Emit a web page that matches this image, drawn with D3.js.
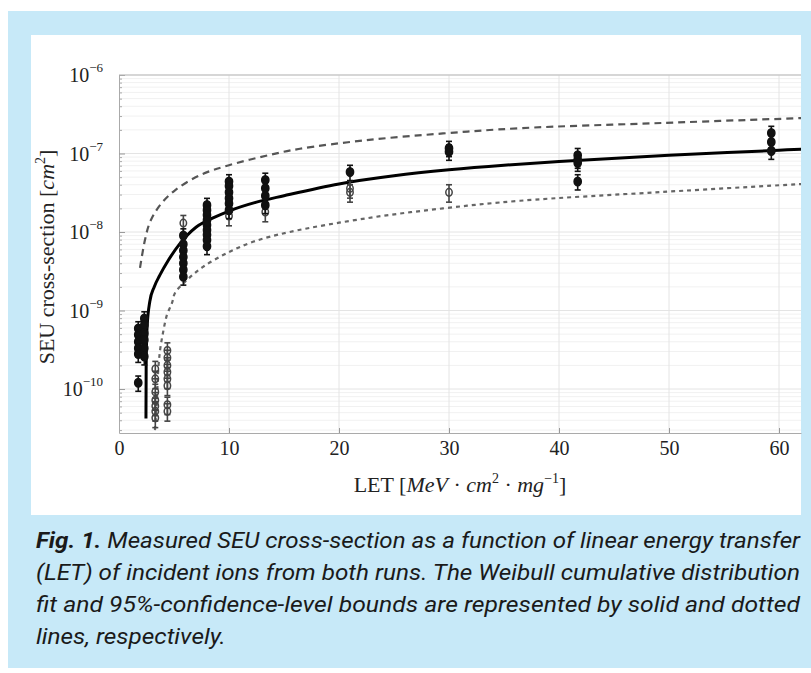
<!DOCTYPE html>
<html><head><meta charset="utf-8">
<script src="https://cdn.jsdelivr.net/npm/d3@7"></script>
<style>body{margin:0;background:#fff;overflow:hidden}</style>
</head><body>
<svg id="c" width="811" height="673"></svg>
<script>
// ---- data ----
const xTickValues = [0, 10, 20, 30, 40, 50, 60];
const yDecadeExps = [-10, -9, -8, -7, -6];

// Weibull fit (solid): [LET, sigma]
const fitCurve = [[2.45,4.2e-11],[2.47,2e-10],[2.55,6e-10],[2.8,1.3e-9],[3.2,2.0e-9],[3.7,2.8e-9],[4.5,4.4e-9],[5.5,7e-9],[7,1.15e-8],[8.5,1.5e-8],[10,1.85e-8],[12.5,2.4e-8],[15,2.9e-8],[20,4.1e-8],[25,5.2e-8],[30,6.2e-8],[35,7.1e-8],[40,7.9e-8],[50,9.5e-8],[60,1.1e-7],[62.2,1.14e-7]];
// upper 95% bound (dashed)
const upperBound = [[1.91,3.5e-9],[2.36,7.9e-9],[2.82,1.34e-8],[3.73,2.2e-8],[5.09,3.4e-8],[7.36,5.3e-8],[10,7.1e-8],[13.7,9.6e-8],[16.45,1.15e-7],[22.5,1.48e-7],[29.45,1.8e-7],[36.45,2.1e-7],[49.45,2.45e-7],[62.2,2.83e-7]];
// lower 95% bound (dotted)
const lowerBound = [[3.27,3.0e-11],[3.45,7.3e-11],[3.55,1.6e-10],[3.73,3.1e-10],[4.0,5.2e-10],[4.36,8.8e-10],[4.82,1.25e-9],[5.09,1.67e-9],[6.18,2.45e-9],[7.64,3.6e-9],[9.82,5.4e-9],[12.18,7.5e-9],[15.5,1.0e-8],[22.55,1.5e-8],[29.45,2.0e-8],[36.45,2.5e-8],[49.45,3.24e-8],[62.2,4.1e-8]];

// measured points, run 1 (filled markers)
const run1 = [
 [1.75,5.9e-10],[1.75,4.9e-10],[1.75,4.0e-10],[1.75,3.3e-10],[1.75,2.8e-10],[1.75,1.2e-10],
 [2.3,7.9e-10],[2.3,6.5e-10],[2.3,5.1e-10],[2.3,4.2e-10],[2.3,3.3e-10],[2.3,2.6e-10],
 [5.85,9e-9],[5.85,7e-9],[5.85,5.8e-9],[5.85,4.8e-9],[5.85,4.0e-9],[5.85,3.3e-9],[5.85,2.7e-9],
 [8.0,2.2e-8],[8.0,1.9e-8],[8.0,1.65e-8],[8.0,1.42e-8],[8.0,1.23e-8],[8.0,1.06e-8],[8.0,9.2e-9],[8.0,7.9e-9],[8.0,6.6e-9],
 [10,4.4e-8],[10,3.85e-8],[10,3.2e-8],[10,2.7e-8],[10,2.3e-8],[10,1.9e-8],
 [13.3,4.6e-8],[13.3,3.6e-8],[13.3,2.9e-8],[13.3,2.2e-8],
 [21,5.8e-8],
 [30,1.17e-7],[30,1.05e-7],
 [41.7,9.5e-8],[41.7,8.3e-8],[41.7,7.6e-8],[41.7,4.4e-8],
 [59.3,1.82e-7],[59.3,1.4e-7],[59.3,1.08e-7]
];
// measured points, run 2 (open markers)
const run2 = [
 [3.3,1.8e-10],[3.3,1.35e-10],[3.3,9.2e-11],[3.3,7.2e-11],[3.3,6.1e-11],[3.3,5.2e-11],[3.3,4.3e-11],
 [4.4,3.1e-10],[4.4,2.5e-10],[4.4,2.0e-10],[4.4,1.65e-10],[4.4,1.35e-10],[4.4,1.1e-10],[4.4,6.3e-11],[4.4,5.2e-11],
 [5.85,1.3e-8],[10,1.6e-8],[13.3,1.8e-8],
 [21,3.6e-8],[21,3.2e-8],[30,3.2e-8]
];
const errFracRun1 = 0.22;
const errFracRun2 = 0.25;

const captionLines = [
 ["Fig. 1.", " Measured SEU cross-section as a function of linear energy transfer"],
 ["", "(LET) of incident ions from both runs. The Weibull cumulative distribution"],
 ["", "fit and 95%-confidence-level bounds are represented by solid and dotted"],
 ["", "lines, respectively."]
];

// ---- layout ----
const svg = d3.select("#c");
const W = 811, H = 673;
svg.append("rect").attr("x",8).attr("y",11).attr("width",W-8).attr("height",657).attr("fill","#c7e9f8");
svg.append("rect").attr("x",31).attr("y",35).attr("width",770).attr("height",480).attr("fill","#fff");

const L = 119, R = 801, T = 75, B = 433;
const x = d3.scaleLinear().domain([0, (R-L)/11]).range([L, R]);
const y = d3.scaleLog().domain([Math.pow(10,-10.56), 1e-6]).range([B, T]);

svg.append("clipPath").attr("id","clip").append("rect").attr("x",L).attr("y",T).attr("width",R-L).attr("height",B-T);

const serif = "'Liberation Serif','Times New Roman',serif";

// grid
const g = svg.append("g");
const minors = [];
yDecadeExps.concat([-11]).forEach(e => { for (let k=2;k<=9;k++){ const v=k*Math.pow(10,e); if (v>=y.domain()[0] && v<=1e-6) minors.push(v);} });
g.selectAll(".gmin").data(minors).join("line").attr("x1",L).attr("x2",R)
 .attr("y1",d=>y(d)).attr("y2",d=>y(d)).attr("stroke","#f1f1f1").attr("stroke-width",1);
g.selectAll(".gmaj").data(yDecadeExps).join("line").attr("x1",L).attr("x2",R)
 .attr("y1",d=>y(Math.pow(10,d))).attr("y2",d=>y(Math.pow(10,d))).attr("stroke","#e4e4e4");
g.selectAll(".gx").data(xTickValues.filter(v=>v>0)).join("line").attr("y1",T).attr("y2",B)
 .attr("x1",d=>x(d)).attr("x2",d=>x(d)).attr("stroke","#e4e4e4");

// axes
const xAxis = svg.append("g").attr("transform",`translate(0,${B})`)
 .call(d3.axisBottom(x).tickValues(xTickValues).tickSizeInner(-5).tickSizeOuter(0).tickFormat(d3.format("d")).tickPadding(12));
xAxis.select(".domain").attr("stroke","#aaa");
xAxis.selectAll(".tick line").attr("stroke","#999");
xAxis.selectAll("text").attr("font-family",serif).attr("font-size",20).attr("fill","#222").attr("dy","0.5em");

const yAxis = svg.append("g").attr("transform",`translate(${L},0)`)
 .call(d3.axisLeft(y).tickValues(minors).tickSizeInner(-3).tickSizeOuter(0).tickFormat(""));
yAxis.select(".domain").attr("stroke","#aaa");
yAxis.selectAll(".tick line").attr("stroke","#aaa");
const yMaj = svg.append("g").attr("transform",`translate(${L},0)`)
 .call(d3.axisLeft(y).tickValues(yDecadeExps.map(e=>Math.pow(10,e))).tickSizeInner(-6).tickSizeOuter(0).tickFormat(""));
yMaj.select(".domain").remove();
yMaj.selectAll(".tick line").attr("stroke","#999");
// top border
svg.append("line").attr("x1",L).attr("x2",R).attr("y1",T).attr("y2",T).attr("stroke","#bbb");

yDecadeExps.forEach(e => {
  const t = svg.append("text").attr("x",103).attr("y",y(Math.pow(10,e))+7)
    .attr("text-anchor","end").attr("font-family",serif).attr("fill","#222");
  t.append("tspan").attr("font-size",20).text("10");
  t.append("tspan").attr("font-size",13).attr("dy",-10).text("\u2212"+Math.abs(e));
});

// axis titles
const xl = svg.append("text").attr("x",460).attr("y",492).attr("text-anchor","middle")
 .attr("font-family",serif).attr("font-size",22).attr("fill","#222");
xl.append("tspan").text("LET [");
xl.append("tspan").attr("font-style","italic").text("MeV");
xl.append("tspan").text(" \u00b7 ");
xl.append("tspan").attr("font-style","italic").text("cm");
xl.append("tspan").attr("font-size",14).attr("dy",-9).text("2");
xl.append("tspan").attr("dy",9).text(" \u00b7 ");
xl.append("tspan").attr("font-style","italic").text("mg");
xl.append("tspan").attr("font-size",14).attr("dy",-9).text("\u22121");
xl.append("tspan").attr("dy",9).text("]");

const yl = svg.append("text").attr("transform","translate(54,257) rotate(-90)").attr("text-anchor","middle")
 .attr("font-family",serif).attr("font-size",22).attr("fill","#222");
yl.append("tspan").text("SEU cross-section [");
yl.append("tspan").attr("font-style","italic").text("cm");
yl.append("tspan").attr("font-size",14).attr("dy",-9).text("2");
yl.append("tspan").attr("dy",9).text("]");

// curves
const plot = svg.append("g").attr("clip-path","url(#clip)");
const lineFit = d3.line().x(d=>x(d[0])).y(d=>y(d[1])).curve(d3.curveMonotoneX);
const lineB = d3.line().x(d=>x(d[0])).y(d=>y(d[1])).curve(d3.curveCatmullRom.alpha(0.5));
plot.append("path").attr("d",lineB(upperBound)).attr("fill","none").attr("stroke","#555").attr("stroke-width",2.2).attr("stroke-dasharray","7,5");
plot.append("path").attr("d",lineB(lowerBound)).attr("fill","none").attr("stroke","#666").attr("stroke-width",2.2).attr("stroke-dasharray","4,4");
plot.append("path").attr("d",lineFit(fitCurve)).attr("fill","none").attr("stroke","#000").attr("stroke-width",3);

// error bars + markers
function drawRun(data, frac, filled, col){
  const gg = plot.append("g");
  const eb = gg.selectAll("g.e").data(data).join("g");
  eb.append("line").attr("x1",d=>x(d[0])).attr("x2",d=>x(d[0]))
    .attr("y1",d=>y(d[1]*(1+frac))).attr("y2",d=>y(d[1]*(1-frac))).attr("stroke",col).attr("stroke-width",1.6);
  [1+frac,1-frac].forEach(f=>{
    eb.append("line").attr("x1",d=>x(d[0])-3).attr("x2",d=>x(d[0])+3)
      .attr("y1",d=>y(d[1]*f)).attr("y2",d=>y(d[1]*f)).attr("stroke",col).attr("stroke-width",1.6);
  });
  gg.selectAll("ellipse").data(data).join("ellipse")
    .attr("cx",d=>x(d[0])).attr("cy",d=>y(d[1]))
    .attr("rx",filled?3.6:3.2).attr("ry",filled?4.3:3.8)
    .attr("fill",filled?"#111":"none").attr("stroke",col).attr("stroke-width",1.5);
}
drawRun(run2, errFracRun2, false, "#444");
drawRun(run1, errFracRun1, true, "#111");

// caption
const cap = svg.append("g");
const capY = [548, 580, 612, 644];
let factors = [];
captionLines.forEach((ln,i)=>{
  const t = cap.append("text").attr("x",36).attr("y",capY[i])
    .attr("font-family","Roboto,'Liberation Sans',sans-serif").attr("font-size",22)
    .attr("font-style","italic").attr("fill","#1a1a1a");
  if (ln[0]) t.append("tspan").attr("font-weight","bold").text(ln[0]);
  t.append("tspan").text(ln[1]);
  const len = t.node().getComputedTextLength();
  if (i<3){ factors.push(764/len); t.attr("textLength",764).attr("lengthAdjust","spacingAndGlyphs"); }
  else {
    const f = d3.mean(factors);
    t.attr("textLength",len*f).attr("lengthAdjust","spacingAndGlyphs");
  }
});
</script>
</body></html>
